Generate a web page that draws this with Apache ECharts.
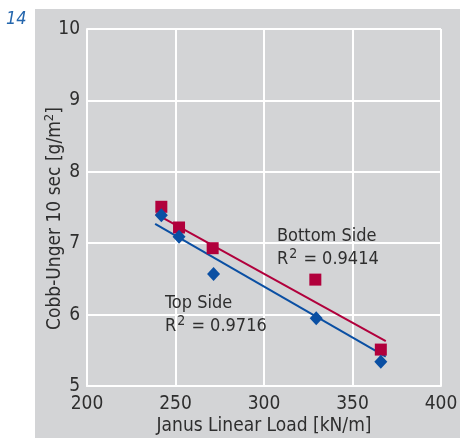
<!DOCTYPE html>
<html><head><meta charset="utf-8">
<script src="https://cdn.jsdelivr.net/npm/echarts@6/dist/echarts.min.js"></script>
<style>html,body{margin:0;padding:0;background:#fff}#c{width:460px;height:438px}</style>
</head><body><div id="c"></div>
<script>
var xTicks = [200, 250, 300, 350, 400];
var yTicks = [5, 6, 7, 8, 9, 10];
var bottomX = [242, 252, 271, 329, 366];
var bottomY = [7.51, 7.22, 6.93, 6.49, 5.51];
var topX = [242, 252, 271.5, 329.5, 366];
var topY = [7.39, 7.09, 6.57, 5.95, 5.34];
var bottomTrendX = [238.8, 368.8];
var bottomTrendY = [7.41, 5.63];
var topTrendX = [238.5, 368.8];
var topTrendY = [7.27, 5.41];

function pairs(xs, ys){ return xs.map(function(x,i){return [x, ys[i]];}); }
var FONT = '"DejaVu Sans Condensed", "Liberation Sans Narrow", sans-serif';
var TXT = '#2e2e2e';
var RED = '#b1003c';
var BLUE = '#0a4fa3';

var chart = echarts.init(document.getElementById('c'));
chart.setOption({
  animation: false,
  backgroundColor: '#ffffff',
  graphic: [
    {type:'rect', left:35, top:9, shape:{width:425, height:429}, style:{fill:'#d3d4d6'}, z:-10},
    {type:'text', left:6, top:10, style:{text:'14', fontStyle:'italic', fontSize:18, fontFamily:FONT, fill:'#2466ad'}},
    {type:'text', left:277, top:227, z:100, style:{
      text:'{a|Bottom Side}\n{a|R}{s|2}{a| = 0.9414}',
      rich:{a:{fontSize:18, fontFamily:FONT, fill:TXT, color:TXT, lineHeight:23, verticalAlign:'bottom'},
            s:{fontSize:14, fontFamily:FONT, fill:TXT, color:TXT, lineHeight:23, verticalAlign:'top', padding:[2,1,0,1]}}
    }},
    {type:'text', left:165, top:294, z:100, style:{
      text:'{a|Top Side}\n{a|R}{s|2}{a| = 0.9716}',
      rich:{a:{fontSize:18, fontFamily:FONT, fill:TXT, color:TXT, lineHeight:23, verticalAlign:'bottom'},
            s:{fontSize:14, fontFamily:FONT, fill:TXT, color:TXT, lineHeight:23, verticalAlign:'top', padding:[2,1,0,1]}}
    }}
  ],
  grid: {left:87, right:19, top:29, bottom:52, containLabel:false, outerBoundsMode:'none'},
  xAxis: {
    type:'value', min:xTicks[0], max:xTicks[xTicks.length-1], interval:50,
    name:'Janus Linear Load [kN/m]', nameLocation:'middle', nameGap:31, nameMoveOverlap:false,
    nameTextStyle:{fontFamily:FONT, fontSize:19, color:TXT},
    axisLine:{show:true, lineStyle:{color:'#ffffff', width:2}},
    axisTick:{show:false},
    axisLabel:{fontFamily:FONT, fontSize:19, color:TXT, margin:9},
    splitLine:{show:true, lineStyle:{color:'#ffffff', width:2}}
  },
  yAxis: {
    type:'value', min:yTicks[0], max:yTicks[yTicks.length-1], interval:1,
    name:'{a|Cobb-Unger 10 sec [g/m}{s|2}{a|]}', nameLocation:'middle', nameGap:22, nameMoveOverlap:false,
    nameTextStyle:{fontFamily:FONT, fontSize:19, color:TXT, padding:[0,22,0,0],
      rich:{a:{fontFamily:FONT, fontSize:19, color:TXT, lineHeight:22, verticalAlign:'bottom'},
            s:{fontFamily:FONT, fontSize:13, color:TXT, lineHeight:22, verticalAlign:'top'}}},
    axisLine:{show:true, lineStyle:{color:'#ffffff', width:2}},
    axisTick:{show:false},
    axisLabel:{fontFamily:FONT, fontSize:19, color:TXT, margin:7},
    splitLine:{show:true, lineStyle:{color:'#ffffff', width:2}}
  },
  series: [
    {type:'line', data:pairs(bottomTrendX, bottomTrendY), showSymbol:false, symbol:'none',
     lineStyle:{color:RED, width:2}, z:3, silent:true},
    {type:'line', data:pairs(topTrendX, topTrendY), showSymbol:false, symbol:'none',
     lineStyle:{color:BLUE, width:2}, z:3, silent:true},
    {type:'scatter', data:pairs(bottomX, bottomY), symbol:'rect', symbolSize:12,
     itemStyle:{color:RED, opacity:1}, z:4},
    {type:'scatter', data:pairs(topX, topY), symbol:'diamond', symbolSize:[13,14],
     itemStyle:{color:BLUE, opacity:1}, z:5}
  ]
});
</script></body></html>
